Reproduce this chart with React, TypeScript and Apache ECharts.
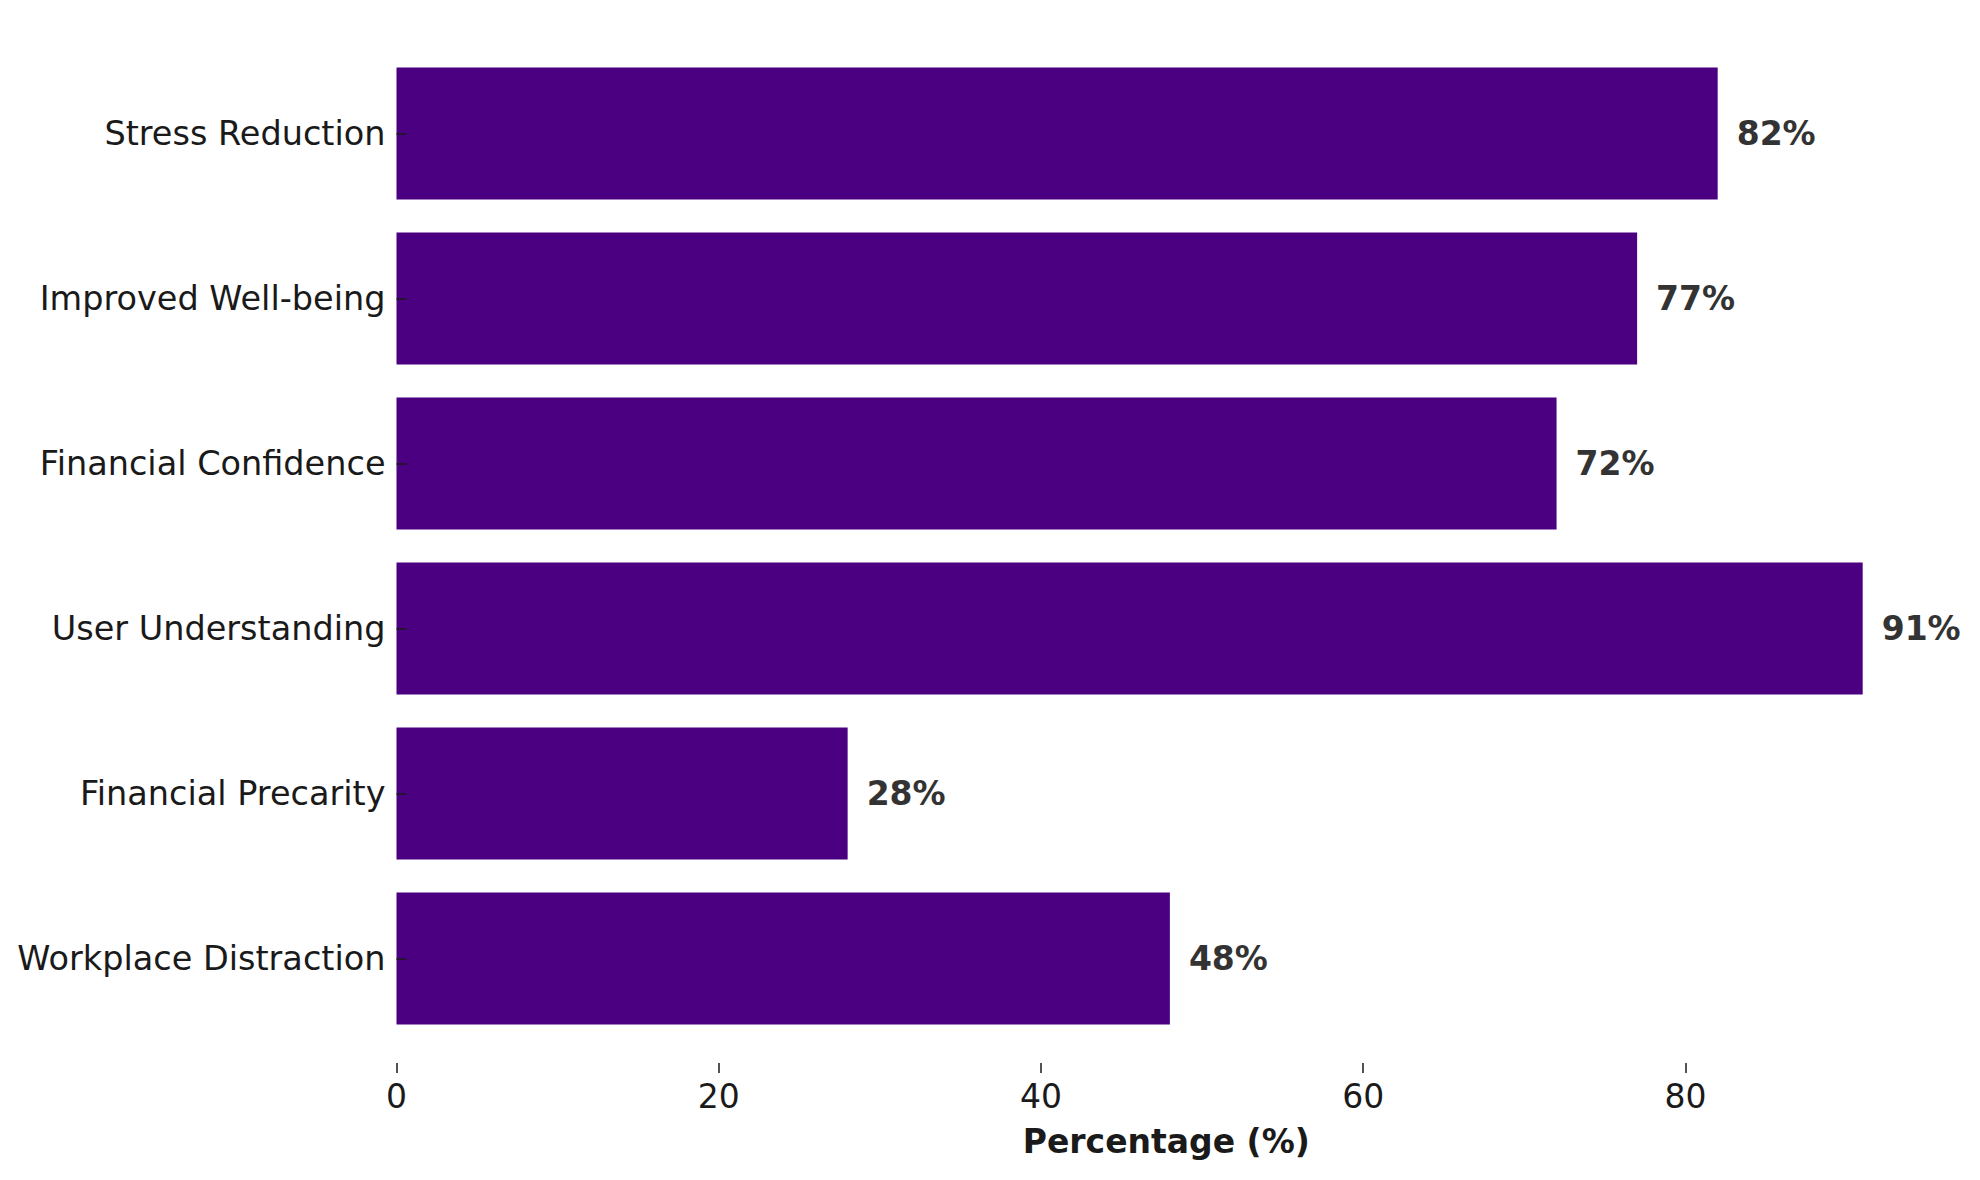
import React, { useEffect, useRef } from 'react';
import * as echarts from 'echarts';

const categories = [
  'Stress Reduction',
  'Improved Well-being',
  'Financial Confidence',
  'User Understanding',
  'Financial Precarity',
  'Workplace Distraction',
];
const values = [82, 77, 72, 91, 28, 48];
const xTicks = [0, 20, 40, 60, 80];
const xMin = 0;
const xMax = 95.55;
const xTitle = 'Percentage (%)';

const FONT = '"DejaVu Sans", sans-serif';

export default function App() {
  const ref = useRef<HTMLDivElement>(null);
  useEffect(() => {
    const chart = echarts.init(ref.current!, null, { renderer: 'svg' });
    chart.setOption({
      animation: false,
      backgroundColor: '#ffffff',
      textStyle: { fontFamily: FONT },
      grid: { left: 396.5, right: 44, top: 51, bottom: 139, containLabel: false },
      xAxis: {
        type: 'value',
        min: xMin,
        max: xMax,
        interval: 20,
        position: 'bottom',
        offset: 32,
        z: 5,
        axisLine: { show: false },
        axisTick: {
          show: true,
          inside: true,
          length: 10,
          customValues: xTicks,
          lineStyle: { color: '#1a1a1a', width: 1.5 },
        },
        axisLabel: {
          customValues: xTicks,
          margin: 7,
          fontSize: 33,
          color: '#1a1a1a',
          fontFamily: FONT,
        },
        splitLine: { show: false },
        name: xTitle,
        nameLocation: 'middle',
        nameGap: 52,
        nameTextStyle: {
          fontSize: 33,
          fontWeight: 'bold',
          color: '#1a1a1a',
          fontFamily: FONT,
          verticalAlign: 'top',
        },
      },
      yAxis: {
        type: 'category',
        data: categories,
        inverse: true,
        z: 5,
        axisLine: { show: false },
        axisTick: {
          show: true,
          inside: true,
          length: 10,
          alignWithLabel: true,
          lineStyle: { color: '#1a1a1a', width: 1.5 },
        },
        axisLabel: {
          margin: 11,
          fontSize: 33.5,
          color: '#1a1a1a',
          fontFamily: FONT,
        },
        splitLine: { show: false },
      },
      series: [
        {
          type: 'bar',
          data: values,
          barWidth: '80%',
          itemStyle: { color: '#4B0082' },
          z: 1,
          label: {
            show: true,
            position: 'right',
            distance: 19,
            formatter: '{c}%',
            fontSize: 33,
            fontWeight: 'bold',
            color: '#333333',
            fontFamily: FONT,
          },
        },
      ],
    });
    return () => chart.dispose();
  }, []);
  return (
    <div
      ref={ref}
      style={{ position: 'fixed', left: 0, top: 0, width: 1980, height: 1180 }}
    />
  );
}
